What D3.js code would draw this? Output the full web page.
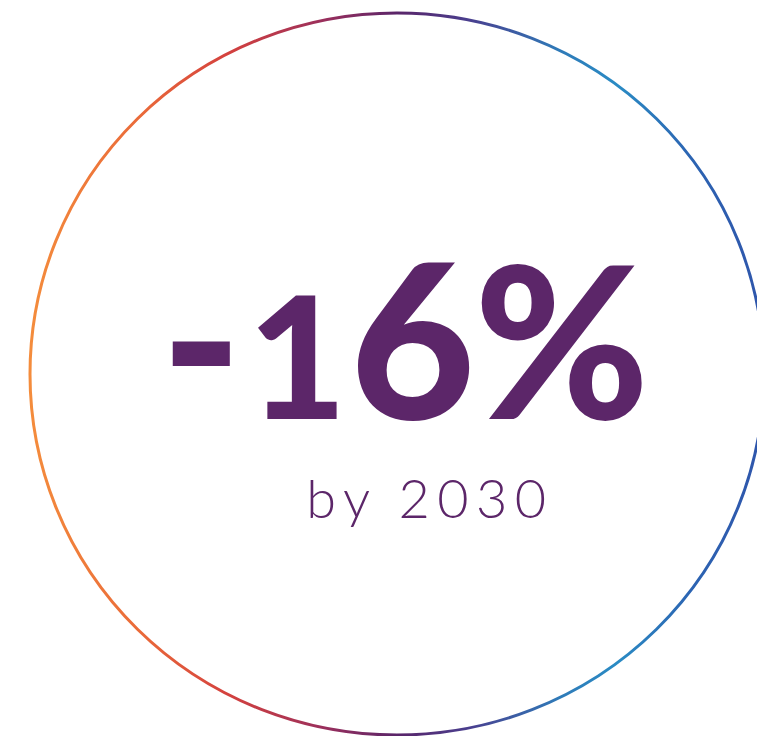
<!DOCTYPE html>
<html><head><meta charset="utf-8">
<script src="https://cdn.jsdelivr.net/npm/d3@7"></script>
<style>html,body{margin:0;padding:0;background:#fff;overflow:hidden}</style>
</head><body>
<svg id="c" width="757" height="736"></svg>
<script>
// Data
const headline = ["-", "1", "6", "%"];
const headlineValue = "-16%";
const subtitle = ["by 2030"];
const gradientOffsets = [0, 0.15, 0.27, 0.4, 0.5, 0.6, 0.72, 0.8, 0.9, 1];
const gradientColors = ["#f48c3c", "#ea6a39", "#d4413e", "#9a2f5c", "#5a2569", "#493f8f", "#2f7ab8", "#2a8bc4", "#2c64b2", "#2f55ab"];

const W = 757, H = 736;
const svg = d3.select("#c");
const cx = 397, cy = 374, rx = 367, ry = 361;

const x = d3.scaleLinear().domain([0, 1]).range([cx - rx, cx + rx]);

const defs = svg.append("defs");
const grad = defs.append("linearGradient").attr("id", "ring")
  .attr("gradientUnits", "userSpaceOnUse")
  .attr("x1", x(0)).attr("y1", cy).attr("x2", x(1)).attr("y2", cy);
grad.selectAll("stop").data(gradientOffsets).join("stop")
  .attr("offset", d => d)
  .attr("stop-color", (d, i) => gradientColors[i]);

svg.append("ellipse")
  .attr("cx", cx).attr("cy", cy).attr("rx", rx).attr("ry", ry)
  .attr("fill", "none").attr("stroke", "url(#ring)").attr("stroke-width", 3);

const purple = "#5c2669";
// glyph placement: [x, fontSize]
const glyphX = [161, 248, 350, 474];
const glyphSize = [216, 170, 216, 212];
const t = svg.append("text")
  .attr("y", 419)
  .attr("font-family", "Lato")
  .attr("font-weight", 900)
  .attr("fill", purple)
  .attr("aria-label", headlineValue);
t.selectAll("tspan").data(headline).join("tspan")
  .attr("x", (d, i) => glyphX[i])
  .attr("font-size", (d, i) => glyphSize[i])
  .text(d => d);

svg.selectAll("text.sub").data(subtitle).join("text")
  .attr("class", "sub")
  .attr("x", 430).attr("y", 518)
  .attr("text-anchor", "middle")
  .attr("font-family", "Lato")
  .attr("font-weight", 300)
  .attr("font-size", 54)
  .attr("letter-spacing", 7.5)
  .attr("fill", purple)
  .text(d => d);
</script>
</body></html>
